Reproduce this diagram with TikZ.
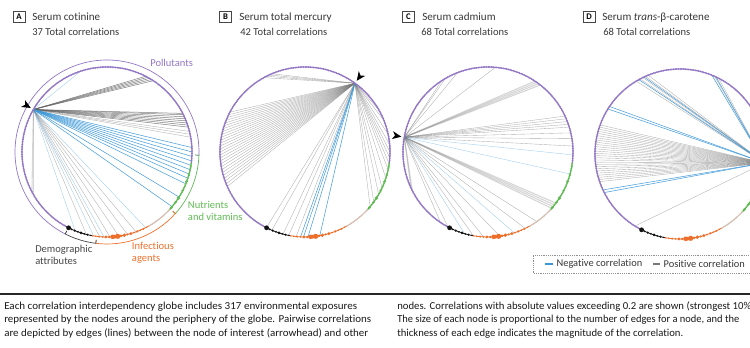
\documentclass[tikz,border=0pt]{standalone}
\usepackage{fontspec}
\setmainfont[Ligatures=NoCommon]{Carlito}
\newlength{\du}
\setlength{\du}{0.75pt}

\definecolor{pollcol}{RGB}{146,118,196}
\definecolor{nutcol}{RGB}{96,186,84}
\definecolor{infcol}{RGB}{236,112,44}
\definecolor{palecol}{RGB}{214,190,178}
\definecolor{democol}{RGB}{20,20,20}
\definecolor{negcol}{RGB}{58,150,214}
\definecolor{poscol}{RGB}{120,120,120}
\definecolor{titlecol}{RGB}{55,55,55}
\definecolor{labelcol}{RGB}{70,70,70}

\tikzset{
  poslink/.style={draw=poscol, line width=0.35\du, draw opacity=0.6},
  posdark/.style={draw=poscol!80!black, line width=0.5\du, draw opacity=0.8},
  posthick/.style={draw=poscol, line width=1.1\du, draw opacity=0.3},
  neglink/.style={draw=negcol, line width=0.55\du, draw opacity=0.9},
  negpale/.style={draw=negcol, line width=0.35\du, draw opacity=0.5},
  paneltag/.style={draw=labelcol, line width=0.5\du, inner sep=0pt, minimum width=12\du, minimum height=11\du, font=\fontsize{6.5pt}{7pt}\selectfont\bfseries},
  titletext/.style={anchor=base west, inner sep=0pt, text=titlecol, font=\fontsize{8.3pt}{10pt}\selectfont},
  counttext/.style={anchor=base west, inner sep=0pt, text=titlecol, font=\fontsize{7.9pt}{10pt}\selectfont},
  grouptext/.style={anchor=base west, inner sep=0pt, font=\fontsize{7.9pt}{10pt}\selectfont},
  legtext/.style={anchor=west, inner sep=0pt, text=titlecol, font=\fontsize{7.8pt}{10pt}\selectfont},
  captext/.style={anchor=base west, inner sep=0pt, text=black!90, font=\fontsize{8pt}{10pt}\selectfont},
}

% ring of the 317 exposure nodes round the current origin
\newcommand{\ringnodes}{%
  \draw[pollcol, line width=0.8\du] (-7:85\du) arc[start angle=-7, end angle=241, radius=85\du];
  \draw[democol, line width=0.8\du] (-119:85\du) arc[start angle=-119, end angle=-100, radius=85\du];
  \draw[infcol, line width=0.8\du] (-100:85\du) arc[start angle=-100, end angle=-60, radius=85\du];
  \draw[palecol, line width=0.8\du] (-60:85\du) arc[start angle=-60, end angle=-42, radius=85\du];
  \draw[nutcol, line width=0.8\du] (-42:85\du) arc[start angle=-42, end angle=-7, radius=85\du];
  \foreach \i in {98,...,316}{\fill[pollcol] ({-118+\i*1.1356}:85\du) circle (1\du);}
  \foreach \i in {51,...,66}{\fill[palecol] ({-118+\i*1.1356}:85\du) circle (0.9\du);}
  \foreach \i in {67,...,97}{\fill[nutcol] ({-118+\i*1.1356}:85\du) circle (1\du);}
  \foreach \i/\s in {68/1.6,72/1.4,75/1.8,80/1.3,86/1.5,90/1.2,95/1.1}{\fill[nutcol] ({-118+\i*1.1356}:85\du) circle (\s\du);}
  \foreach \i/\s in {16/0.8,18/0.9,20/1.2,22/1.0,24/1.6,26/1.4,28/2.3,29/2.0,31/2.6,33/1.5,35/1.9,37/1.2,39/1.6,41/1.0,43/1.3,45/0.9,47/1.1,49/0.8}{\fill[infcol] ({-118+\i*1.1356}:85\du) circle (\s\du);}
  \foreach \i/\s in {1/2.4,3/1.1,5/1.3,7/1.0,9/1.5,11/1.0,13/1.2,15/0.8}{\fill[democol] ({-118+\i*1.1356}:85\du) circle (\s\du);}
}
% bracket outside the ring for one group of exposures
\newcommand{\groupbracket}[3]{\draw[#1, line width=0.7\du] (#2:88.5\du) -- (#2:92\du) arc[start angle=#2, end angle=#3, radius=92\du] -- (#3:88.5\du);}
% arrowhead at the node of interest
\newcommand{\focalmark}[1]{\fill[black, rotate=#1] (88\du,0) -- (97\du,4\du) -- (94.5\du,0) -- (97\du,-4\du) -- cycle;}
% edges from the node of interest
\newcommand{\links}[3]{\foreach \ang in {#3}{\coordinate (tip) at (\ang:85\du); \draw[#2] (#1) -- (tip);}}
% caption line set to the printed width
\newcommand{\capline}[2]{\resizebox{#1\du}{\height}{#2}}

\begin{document}
\begin{tikzpicture}
\useasboundingbox (0,0) rectangle (750\du,348\du);
\clip (0,0) rectangle (750\du,348\du);

% globe A
\begin{scope}[shift={(107\du,196\du)}]
\coordinate (fA) at (150:85\du);
\links{fA}{posdark}{57,58.5,60,61.5,63}
\links{fA}{posdark}{17,18.5,20,21.5,23,24.5,26,27}
\links{fA}{poslink}{10,12,14}
\links{fA}{neglink}{3,0,-3,-6,-9,-12,-15,-18,-22,-32,-40}
\links{fA}{posthick}{-152,-150}
\links{fA}{poslink}{-70,-76,-82,-88,-95,-104}
\links{fA}{negpale}{108,-112,-99,-92,-63}
\ringnodes
\groupbracket{pollcol}{-2}{243}
\groupbracket{nutcol}{-42}{-2}
\groupbracket{infcol}{-97}{-42}
\groupbracket{labelcol}{-117}{-97}
\focalmark{150}
\end{scope}

% globe B
\begin{scope}[shift={(305\du,196\du)}]
\coordinate (fB) at (54:85\du);
\links{fB}{poslink}{113,115,117,119}
\links{fB}{poslink}{152,154,...,204}
\links{fB}{poslink}{30,22,12,5,0,-4,-8,-12,-18,-25,-30,-36,-40}
\links{fB}{poslink}{-117,-113,-105,-101,-96}
\links{fB}{neglink}{-93,-91,-88,-80}
\ringnodes
\focalmark{54}
\end{scope}

% globe C
\begin{scope}[shift={(488\du,196\du)}]
\coordinate (fC) at (170:85\du);
\links{fC}{poslink}{123,120,111,85}
\links{fC}{posthick}{52,53.5,55,56.5}
\links{fC}{poslink}{17,19,21,23,25,13,9,4}
\links{fC}{negpale}{-2,-15,-106,-72}
\links{fC}{posthick}{-37,-38.5,-40,-41.5}
\links{fC}{poslink}{-55,-64,-82,-93,-100,-118,-124}
\links{fC}{posthick}{205,207}
\ringnodes
\focalmark{170}
\end{scope}

% globe D
\begin{scope}[shift={(680\du,194\du)}]
\coordinate (fD) at (-6:85\du);
\links{fD}{poslink}{160,161.5,...,200}
\links{fD}{poslink}{112,114,116,118,121,63,66,-122}
\links{fD}{neglink}{146,148,205,207,115,119,65,68,12,18,24,30}
\ringnodes
\focalmark{-6}
\end{scope}

% panel headings
\node[paneltag] (tagA) at (19\du,331\du) {A};
\node[titletext] (titleA) at (32\du,327.3\du) {Serum cotinine};
\node[counttext] (countA) at (32\du,312.7\du) {37 Total correlations};
\node[paneltag] (tagB) at (225.5\du,331\du) {B};
\node[titletext] (titleB) at (239\du,327.3\du) {Serum total mercury};
\node[counttext] (countB) at (240\du,312.7\du) {42 Total correlations};
\node[paneltag] (tagC) at (408.5\du,331\du) {C};
\node[titletext] (titleC) at (422\du,327.3\du) {Serum cadmium};
\node[counttext] (countC) at (421\du,312.7\du) {68 Total correlations};
\node[paneltag] (tagD) at (589\du,331\du) {D};
\node[titletext] (titleD) at (602\du,327.3\du) {Serum \textit{trans}-β-carotene};
\node[counttext] (countD) at (603\du,312.7\du) {68 Total correlations};

% group labels
\node[grouptext, text=pollcol] (pollabel) at (150\du,281\du) {Pollutants};
\node[grouptext, text=nutcol] (nutlabel) at (187.7\du,139.7\du) {Nutrients};
\node[grouptext, text=nutcol] (nutlabel2) at (187.7\du,127.3\du) {and vitamins};
\node[grouptext, text=infcol] (inflabel) at (131.7\du,98\du) {Infectious};
\node[grouptext, text=infcol] (inflabel2) at (131.7\du,86.3\du) {agents};
\node[grouptext, text=labelcol] (demlabel) at (35\du,95.3\du) {Demographic};
\node[grouptext, text=labelcol] (demlabel2) at (35\du,83\du) {attributes};

% legend
\draw[labelcol!60, densely dotted, line width=0.5\du] (533\du,75\du) rectangle (755\du,93\du);
\coordinate (negkey) at (545\du,84\du);
\draw[negcol, line width=1.2\du] (negkey) -- ++(8\du,0) node[legtext, right=3\du] (negtext) {Negative correlation};
\coordinate (poskey) at (653\du,84\du);
\draw[poscol, line width=1.2\du] (poskey) -- ++(7\du,0) node[legtext, right=3\du] (postext) {Positive correlation};

% caption
\draw[black!85, line width=1.5\du] (0,54\du) -- (750\du,54\du);
\node[captext] (capL1) at (4\du,38.5\du) {\capline{353}{Each correlation interdependency globe includes 317 environmental exposures}};
\node[captext] (capL2) at (4\du,25\du) {\capline{367}{represented by the nodes around the periphery of the globe. Pairwise correlations}};
\node[captext] (capL3) at (4\du,11.5\du) {\capline{364}{are depicted by edges (lines) between the node of interest (arrowhead) and other}};
\node[captext] (capR1) at (397\du,38.5\du) {\capline{354}{nodes. Correlations with absolute values exceeding 0.2 are shown (strongest 10\%}};
\node[captext] (capR2) at (397\du,25\du) {\capline{342}{The size of each node is proportional to the number of edges for a node, and the}};
\node[captext] (capR3) at (397\du,11.5\du) {\capline{286}{thickness of each edge indicates the magnitude of the correlation.}};
\end{tikzpicture}
\end{document}
